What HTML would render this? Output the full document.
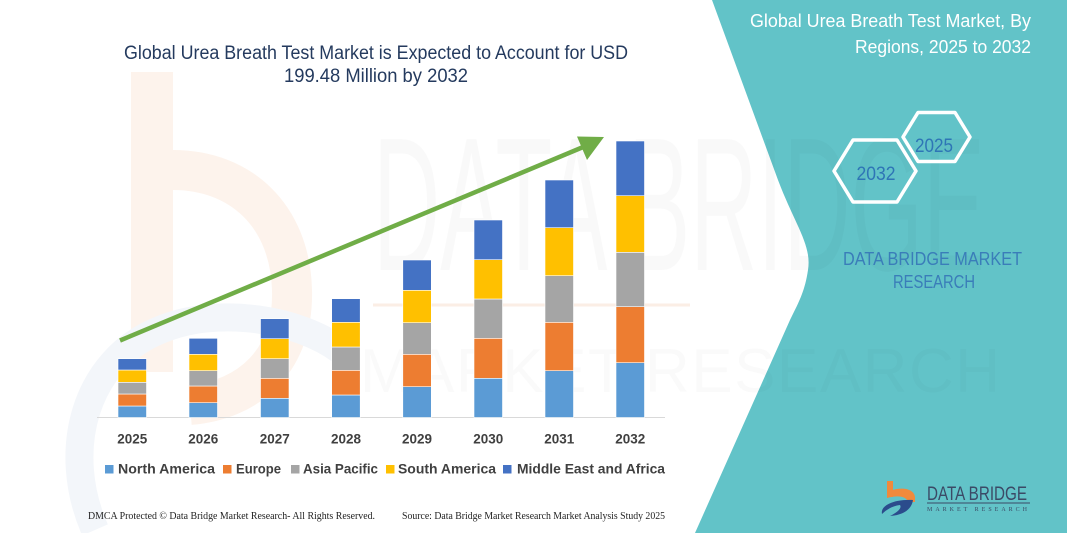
<!DOCTYPE html>
<html>
<head>
<meta charset="utf-8">
<style>
html,body{margin:0;padding:0;background:#fff;}
svg{display:block;}
</style>
</head>
<body>
<svg width="1067" height="533" viewBox="0 0 1067 533" xmlns="http://www.w3.org/2000/svg">
  <rect x="0" y="0" width="1067" height="533" fill="#ffffff"/>

  <!-- faint watermark: orange b and blue arc -->
  <g>
    <rect x="131" y="72" width="42" height="300" fill="#FDF3EC"/>
    <path d="M173,170 C240,170 290,215 292,290 C294,360 250,400 190,405" fill="none" stroke="#FDF3EC" stroke-width="40"/>
    <path d="M95,530 C60,450 85,360 160,330 C220,305 300,320 340,350" fill="none" stroke="#F3F6FA" stroke-width="28"/>
  </g>

  <!-- teal panel -->
  <path d="M712,0 L778,180 C795,225 812,245 808,270 C805,290 800,300 790,320 L695,533 L1067,533 L1067,0 Z" fill="#62C3C8"/>

  <!-- faint watermark text -->
  <text x="373" y="270" font-family="Liberation Sans, sans-serif" font-size="190" textLength="612" lengthAdjust="spacingAndGlyphs" fill="#000" fill-opacity="0.025">DATA BRIDGE</text>
  <line x1="373" y1="305" x2="690" y2="305" stroke="#FBEEE5" stroke-width="3"/>
  <text x="360" y="392" font-family="Liberation Sans, sans-serif" font-size="62" textLength="640" lengthAdjust="spacing" fill="#000" fill-opacity="0.018">MARKET RESEARCH</text>

  <!-- title -->
  <text x="376" y="59" text-anchor="middle" font-family="Liberation Sans, sans-serif" font-size="19" fill="#243A5E" textLength="504" lengthAdjust="spacingAndGlyphs">Global Urea Breath Test Market is Expected to Account for USD</text>
  <text x="376" y="82" text-anchor="middle" font-family="Liberation Sans, sans-serif" font-size="19" fill="#243A5E" textLength="184" lengthAdjust="spacingAndGlyphs">199.48 Million by 2032</text>

  <!-- axis -->
  <line x1="97" y1="417.5" x2="665" y2="417.5" stroke="#D9D9D9" stroke-width="1"/>

  <!-- bars -->
  <g stroke="#ffffff" stroke-width="0.6">
    <rect x="118" y="406" width="28.5" height="11.5" fill="#5B9BD5"/>
    <rect x="118" y="394" width="28.5" height="12" fill="#ED7D31"/>
    <rect x="118" y="382.3" width="28.5" height="11.7" fill="#A5A5A5"/>
    <rect x="118" y="370" width="28.5" height="12.3" fill="#FFC000"/>
    <rect x="118" y="358.7" width="28.5" height="11.3" fill="#4472C4"/>

    <rect x="189" y="402.7" width="28.5" height="14.8" fill="#5B9BD5"/>
    <rect x="189" y="386" width="28.5" height="16.7" fill="#ED7D31"/>
    <rect x="189" y="370.7" width="28.5" height="15.3" fill="#A5A5A5"/>
    <rect x="189" y="354.3" width="28.5" height="16.4" fill="#FFC000"/>
    <rect x="189" y="338.3" width="28.5" height="16" fill="#4472C4"/>

    <rect x="260.5" y="398.3" width="28.5" height="19.2" fill="#5B9BD5"/>
    <rect x="260.5" y="378.3" width="28.5" height="20" fill="#ED7D31"/>
    <rect x="260.5" y="358.7" width="28.5" height="19.6" fill="#A5A5A5"/>
    <rect x="260.5" y="338.7" width="28.5" height="20" fill="#FFC000"/>
    <rect x="260.5" y="318.7" width="28.5" height="20" fill="#4472C4"/>

    <rect x="331.7" y="395" width="28.5" height="22.5" fill="#5B9BD5"/>
    <rect x="331.7" y="370.3" width="28.5" height="24.7" fill="#ED7D31"/>
    <rect x="331.7" y="347" width="28.5" height="23.3" fill="#A5A5A5"/>
    <rect x="331.7" y="322.3" width="28.5" height="24.7" fill="#FFC000"/>
    <rect x="331.7" y="298.7" width="28.5" height="23.6" fill="#4472C4"/>

    <rect x="402.8" y="386.7" width="28.5" height="30.8" fill="#5B9BD5"/>
    <rect x="402.8" y="354.3" width="28.5" height="32.4" fill="#ED7D31"/>
    <rect x="402.8" y="322.7" width="28.5" height="31.6" fill="#A5A5A5"/>
    <rect x="402.8" y="290.3" width="28.5" height="32.4" fill="#FFC000"/>
    <rect x="402.8" y="260" width="28.5" height="30.3" fill="#4472C4"/>

    <rect x="474" y="378.3" width="28.5" height="39.2" fill="#5B9BD5"/>
    <rect x="474" y="338.3" width="28.5" height="40" fill="#ED7D31"/>
    <rect x="474" y="299" width="28.5" height="39.3" fill="#A5A5A5"/>
    <rect x="474" y="259.7" width="28.5" height="39.3" fill="#FFC000"/>
    <rect x="474" y="220" width="28.5" height="39.7" fill="#4472C4"/>

    <rect x="545" y="370.7" width="28.5" height="46.8" fill="#5B9BD5"/>
    <rect x="545" y="322.3" width="28.5" height="48.4" fill="#ED7D31"/>
    <rect x="545" y="275.7" width="28.5" height="46.6" fill="#A5A5A5"/>
    <rect x="545" y="227.7" width="28.5" height="48" fill="#FFC000"/>
    <rect x="545" y="180" width="28.5" height="47.7" fill="#4472C4"/>

    <rect x="616" y="362.7" width="28.5" height="54.8" fill="#5B9BD5"/>
    <rect x="616" y="306.7" width="28.5" height="56" fill="#ED7D31"/>
    <rect x="616" y="252.3" width="28.5" height="54.4" fill="#A5A5A5"/>
    <rect x="616" y="195.7" width="28.5" height="56.6" fill="#FFC000"/>
    <rect x="616" y="141" width="28.5" height="54.7" fill="#4472C4"/>
  </g>

  <!-- arrow -->
  <line x1="120" y1="340.5" x2="588" y2="145" stroke="#70AD47" stroke-width="4.5"/>
  <polygon points="604,137 577,136.5 587,160" fill="#70AD47"/>

  <!-- year labels -->
  <g font-family="Liberation Sans, sans-serif" font-size="14" font-weight="bold" fill="#404040" text-anchor="middle">
    <text x="132.3" y="443.5" textLength="30" lengthAdjust="spacingAndGlyphs">2025</text>
    <text x="203.3" y="443.5" textLength="30" lengthAdjust="spacingAndGlyphs">2026</text>
    <text x="274.8" y="443.5" textLength="30" lengthAdjust="spacingAndGlyphs">2027</text>
    <text x="346" y="443.5" textLength="30" lengthAdjust="spacingAndGlyphs">2028</text>
    <text x="417" y="443.5" textLength="30" lengthAdjust="spacingAndGlyphs">2029</text>
    <text x="488.3" y="443.5" textLength="30" lengthAdjust="spacingAndGlyphs">2030</text>
    <text x="559.3" y="443.5" textLength="30" lengthAdjust="spacingAndGlyphs">2031</text>
    <text x="630.3" y="443.5" textLength="30" lengthAdjust="spacingAndGlyphs">2032</text>
  </g>

  <!-- legend -->
  <rect x="105" y="465" width="8.5" height="8.5" fill="#5B9BD5"/>
  <rect x="223" y="465" width="8.5" height="8.5" fill="#ED7D31"/>
  <rect x="291" y="465" width="8.5" height="8.5" fill="#A5A5A5"/>
  <rect x="386" y="465" width="8.5" height="8.5" fill="#FFC000"/>
  <rect x="503" y="465" width="8.5" height="8.5" fill="#4472C4"/>
  <g font-family="Liberation Sans, sans-serif" font-size="14" font-weight="bold" fill="#404040">
    <text x="118" y="473.5" textLength="97" lengthAdjust="spacingAndGlyphs">North America</text>
    <text x="236" y="473.5" textLength="45" lengthAdjust="spacingAndGlyphs">Europe</text>
    <text x="303" y="473.5" textLength="75" lengthAdjust="spacingAndGlyphs">Asia Pacific</text>
    <text x="398" y="473.5" textLength="98" lengthAdjust="spacingAndGlyphs">South America</text>
    <text x="517" y="473.5" textLength="148" lengthAdjust="spacingAndGlyphs">Middle East and Africa</text>
  </g>

  <!-- footer -->
  <g font-family="Liberation Serif, serif" font-size="10" fill="#222">
    <text x="88" y="519" textLength="287" lengthAdjust="spacingAndGlyphs">DMCA Protected © Data Bridge Market Research-  All Rights Reserved.</text>
    <text x="402" y="519" textLength="263" lengthAdjust="spacingAndGlyphs">Source: Data Bridge Market Research  Market Analysis Study 2025</text>
  </g>

  <!-- right panel title -->
  <g font-family="Liberation Sans, sans-serif" font-size="18" fill="#ffffff" text-anchor="end">
    <text x="1031" y="27" textLength="281" lengthAdjust="spacingAndGlyphs">Global Urea Breath Test Market, By</text>
    <text x="1031" y="53" textLength="176" lengthAdjust="spacingAndGlyphs">Regions, 2025 to 2032</text>
  </g>

  <!-- hexagons -->
  <polygon points="903,137 918,112.5 955,112.5 970,137 955,161.5 918,161.5" fill="none" stroke="#ffffff" stroke-width="3.5" stroke-linejoin="round"/>
  <polygon points="834,171 853,140 897,140 916,171 897,202 853,202" fill="none" stroke="#ffffff" stroke-width="3.5" stroke-linejoin="round"/>
  <g font-family="Liberation Sans, sans-serif" font-size="19" fill="#2E75B6" text-anchor="middle">
    <text x="934" y="152" textLength="38" lengthAdjust="spacingAndGlyphs">2025</text>
    <text x="876" y="180" textLength="39" lengthAdjust="spacingAndGlyphs">2032</text>
  </g>

  <!-- DATA BRIDGE MARKET RESEARCH -->
  <g font-family="Liberation Sans, sans-serif" font-size="18" fill="#3A7DB9" text-anchor="middle">
    <text x="932.5" y="265" textLength="179" lengthAdjust="spacingAndGlyphs">DATA BRIDGE MARKET</text>
    <text x="934" y="288" textLength="82" lengthAdjust="spacingAndGlyphs">RESEARCH</text>
  </g>

  <!-- logo -->
  <rect x="887" y="481" width="6" height="16" fill="#F08A3C"/>
  <path d="M887,492 C900,486 914,488 915,497 L915,502 L908,502 C906,496 898,495 887,498 Z" fill="#F08A3C"/>
  <path d="M882,514 C880,505 895,499 913,500 C912,508 905,515 890,516 C898,512 902,508 900,505 C892,506 886,510 882,514 Z" fill="#2B4C8C"/>
  <text x="927" y="500" font-family="Liberation Sans, sans-serif" font-size="19" fill="#3B4A66" textLength="100" lengthAdjust="spacingAndGlyphs">DATA BRIDGE</text>
  <line x1="927" y1="503" x2="1030" y2="503" stroke="#3B4A66" stroke-width="1"/>
  <text x="927" y="511" font-family="Liberation Serif, serif" font-size="6" fill="#3B4A66" textLength="100" lengthAdjust="spacing">MARKET RESEARCH</text>
</svg>
</body>
</html>
